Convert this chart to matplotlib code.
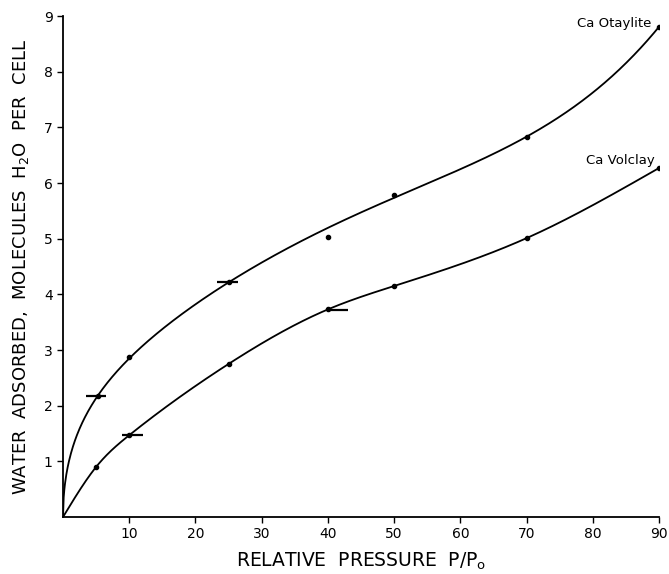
"""
Water adsorption isotherms for Ca Otaylite and Ca Volclay.
Writes out.png (669x574).
"""

import numpy as np
import matplotlib
matplotlib.use("Agg")
import matplotlib.pyplot as plt

# --- data ----------------------------------------------------------------
otay_x = [0, 5.3, 10, 25, 40, 50, 70, 90]
otay_y = [0, 2.17, 2.87, 4.22, 5.03, 5.78, 6.82, 8.81]
otay_on_curve = [True, True, True, True, False, True, True, True]
otay_curve_40 = 5.15  # curve value at 40 (the measured point sits below it)

volc_x = [0, 5, 10, 25, 40, 50, 70, 90]
volc_y = [0, 0.90, 1.47, 2.75, 3.73, 4.15, 5.01, 6.27]

# horizontal bars: (x_lo, x_hi, y)
otay_bars = [(3.5, 6.5, 2.17), (23.3, 26.4, 4.22)]
volc_bars = [(8.9, 12.1, 1.47), (40.0, 43.0, 3.71)]

x_ticks = [10, 20, 30, 40, 50, 60, 70, 80, 90]
y_ticks = [1, 2, 3, 4, 5, 6, 7, 8, 9]


def natural_spline(x, y, xs):
    x = np.asarray(x, float)
    y = np.asarray(y, float)
    n = len(x)
    h = np.diff(x)
    A = np.zeros((n, n))
    r = np.zeros(n)
    A[0, 0] = A[-1, -1] = 1.0
    for i in range(1, n - 1):
        A[i, i - 1] = h[i - 1]
        A[i, i] = 2 * (h[i - 1] + h[i])
        A[i, i + 1] = h[i]
        r[i] = 6 * ((y[i + 1] - y[i]) / h[i] - (y[i] - y[i - 1]) / h[i - 1])
    M = np.linalg.solve(A, r)
    k = np.clip(np.searchsorted(x, xs) - 1, 0, n - 2)
    t0 = xs - x[k]
    t1 = x[k + 1] - xs
    hk = h[k]
    return (M[k] * t1**3 / (6 * hk) + M[k + 1] * t0**3 / (6 * hk)
            + (y[k] / hk - M[k] * hk / 6) * t1
            + (y[k + 1] / hk - M[k + 1] * hk / 6) * t0)


def sqrt_poly_fit(x, y, xs):
    # least squares in basis sqrt(x), x, ..., x^4 (passes through origin)
    x = np.asarray(x, float) / 90.0
    t = np.asarray(xs, float) / 90.0
    basis = lambda u: np.column_stack([np.sqrt(u), u, u**2, u**3, u**4])
    coef, *_ = np.linalg.lstsq(basis(x), np.asarray(y, float), rcond=None)
    return basis(t) @ coef


fig = plt.figure(figsize=(6.69, 5.74), dpi=100)
ax = fig.add_axes([0.0942, 0.0993, 0.891, 0.8728])

xs = np.linspace(0, 90, 900)

# Otaylite: fitted curve that leaves the origin vertically
cx = [x for x, ok in zip(otay_x, otay_on_curve) if ok] + [40]
cy = [y for y, ok in zip(otay_y, otay_on_curve) if ok] + [otay_curve_40]
ax.plot(xs, sqrt_poly_fit(cx, cy, xs), color="black", lw=1.3)

# Volclay: plain spline in x
ax.plot(xs, natural_spline(volc_x, volc_y, xs), color="black", lw=1.3)

# measured points (skip the origin)
ax.plot(otay_x[1:], otay_y[1:], "o", color="black", ms=3)
ax.plot(volc_x[1:], volc_y[1:], "o", color="black", ms=3)

for lo, hi, y in otay_bars + volc_bars:
    ax.plot([lo, hi], [y, y], color="black", lw=1.6, solid_capstyle="butt")

ax.text(88.8, 8.87, "Ca Otaylite", ha="right", va="center", fontsize=9.5)
ax.text(89.4, 6.41, "Ca Volclay", ha="right", va="center", fontsize=9.5)

ax.set_xlim(0, 90)
ax.set_ylim(0, 9)
ax.set_xticks(x_ticks)
ax.set_yticks(y_ticks)
ax.tick_params(direction="out", length=4, width=1, labelsize=10)
for side in ("top", "right"):
    ax.spines[side].set_visible(False)
for side in ("left", "bottom"):
    ax.spines[side].set_linewidth(1.3)

ax.set_xlabel("RELATIVE  PRESSURE  P/P$_\\mathregular{o}$", fontsize=13.5, labelpad=7)
ax.set_ylabel("WATER  ADSORBED,  MOLECULES  H$_\\mathregular{2}$O  PER  CELL",
              fontsize=13, labelpad=9)

fig.savefig("out.png", dpi=100)
